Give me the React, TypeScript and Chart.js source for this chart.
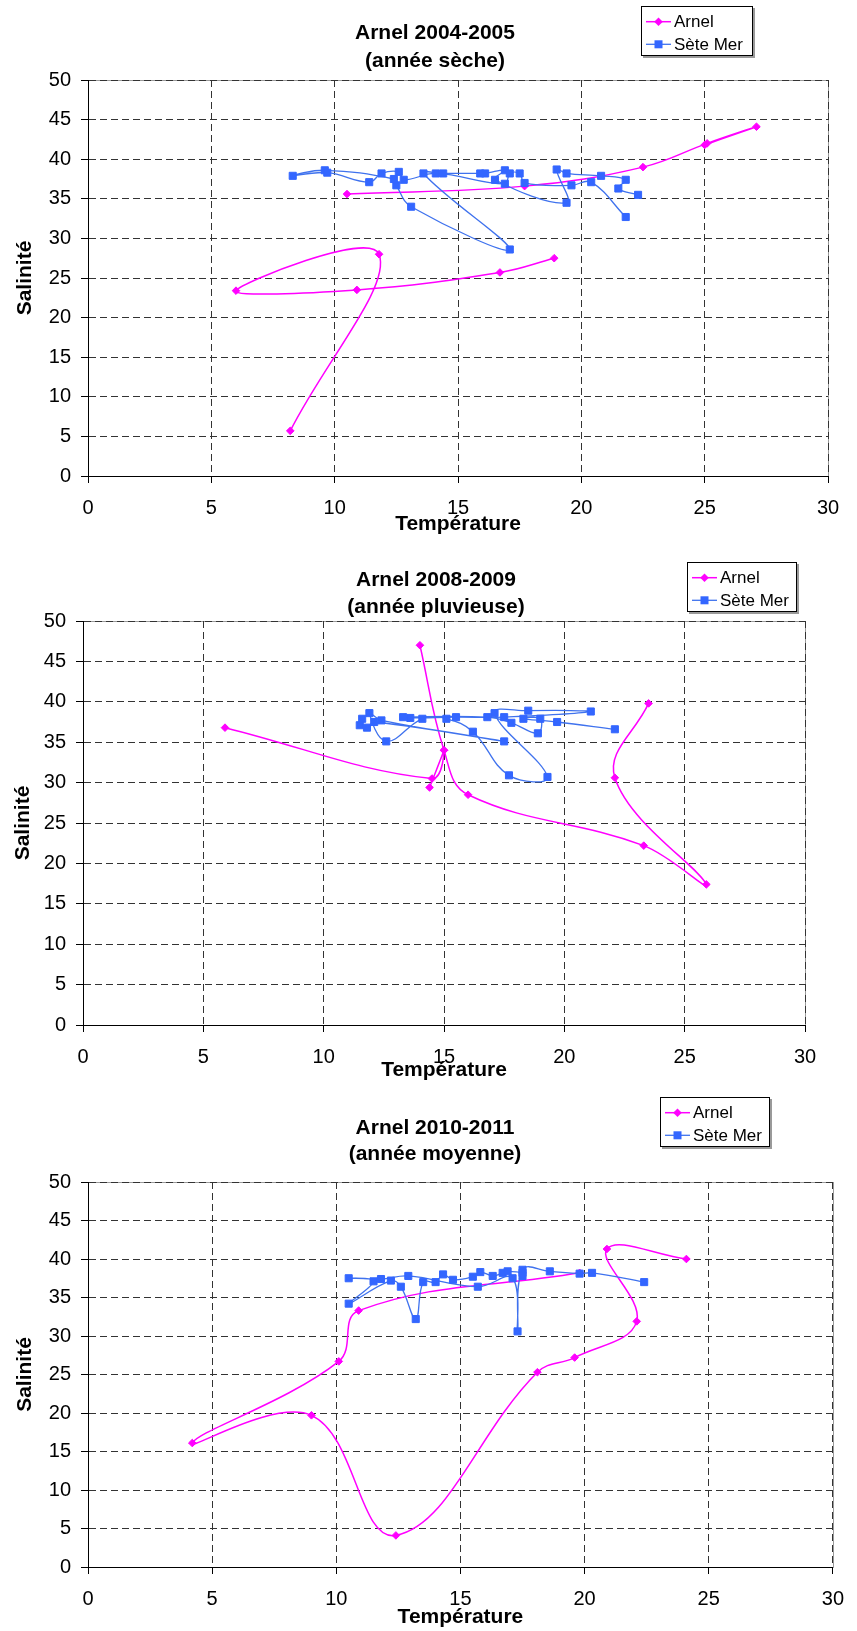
import { useEffect, useRef } from 'react';
import { Chart, registerables } from 'chart.js';

Chart.register(...registerables);

const FONT = '"Liberation Sans", Arial, Helvetica, sans-serif';

// ---- shared labels ----
const legendLabels = ['Arnel', 'Sète Mer'];
const xAxisTitle = 'Température';
const yAxisTitle = 'Salinité';
const xTickMin = 0;
const xTickMax = 30;
const xTickStep = 5;
const yTickMin = 0;
const yTickMax = 50;
const yTickStep = 5;

// ---- chart 1 : 2004-2005 ----
const title1 = ['Arnel 2004-2005', '(année sèche)'];
const arnel1aT = [8.2, 11.8, 6.0, 10.9, 16.7, 18.9];
const arnel1aS = [5.7, 28.0, 23.4, 23.5, 25.7, 27.5];
const arnel1bT = [10.5, 17.7, 22.5, 25.1, 27.1, 25.0];
const arnel1bS = [35.6, 36.6, 39.0, 42.0, 44.1, 41.8];
const sete1T = [22.3, 21.5, 21.8, 20.8, 19.4, 19.0, 19.4, 16.5, 16.9, 16.1, 15.9, 14.4, 13.6, 17.1, 13.1, 12.5, 12.4, 9.6, 8.3, 9.7, 11.4, 11.9, 12.6, 12.8, 14.1, 16.9, 17.1, 17.5, 17.7, 19.6, 20.4, 21.8];
const sete1S = [35.5, 36.3, 37.4, 37.9, 38.2, 38.7, 34.5, 37.4, 38.6, 38.2, 38.2, 38.2, 38.2, 28.6, 34.0, 36.7, 37.5, 38.6, 37.9, 38.3, 37.1, 38.2, 38.4, 37.4, 38.2, 36.9, 38.2, 38.2, 37.0, 36.7, 37.1, 32.7];

// ---- chart 2 : 2008-2009 ----
const title2 = ['Arnel 2008-2009', '(année pluvieuse)'];
const arnel2aT = [5.9, 14.5, 15.0, 14.4];
const arnel2aS = [36.8, 30.5, 34.0, 29.4];
const arnel2bT = [14.0, 15.0, 16.0, 23.3, 25.9, 22.1, 23.5];
const arnel2bS = [47.0, 34.0, 28.5, 22.2, 17.4, 30.6, 39.8];
const sete2T = [11.6, 11.5, 11.8, 12.1, 17.5, 12.4, 11.9, 12.6, 14.1, 15.1, 16.2, 17.7, 19.3, 17.1, 18.5, 21.1, 17.5, 15.5, 13.6, 13.3, 16.8, 17.8, 18.9, 19.0, 18.3, 19.7, 22.1];
const sete2S = [37.9, 37.1, 36.8, 37.5, 35.1, 37.7, 38.6, 35.1, 37.9, 37.9, 36.3, 30.9, 30.7, 38.6, 38.9, 38.8, 38.1, 38.1, 38.0, 38.1, 38.1, 37.4, 36.1, 37.9, 37.9, 37.5, 36.6];

// ---- chart 3 : 2010-2011 ----
const title3 = ['Arnel 2010-2011', '(année moyenne)'];
const arnel3T = [19.8, 10.9, 10.1, 4.2, 9.0, 12.4, 18.1, 19.6, 22.1, 20.9, 24.1];
const arnel3S = [38.2, 33.3, 26.7, 16.1, 19.7, 4.1, 25.3, 27.2, 31.9, 41.3, 40.0];
const sete3T = [22.4, 20.3, 19.8, 18.6, 17.5, 17.3, 17.1, 15.7, 12.9, 11.8, 10.5, 11.5, 10.5, 12.2, 12.6, 13.2, 13.5, 14.0, 14.3, 14.7, 15.5, 15.8, 16.3, 16.7, 16.9, 17.5, 17.5];
const sete3S = [37.0, 38.2, 38.1, 38.4, 38.6, 30.6, 37.5, 36.4, 37.8, 37.4, 37.5, 37.1, 34.2, 37.2, 36.4, 32.2, 37.0, 37.0, 38.0, 37.3, 37.7, 38.3, 37.8, 38.2, 38.4, 38.2, 37.8];

// ---- styles ----
const ARNEL = '#FF00FF';
const SETE_LINE = '#3F72EE';
const SETE_MARK = '#3366FF';
const GRID = '#333333';
const Y_W = 60;
const X_H = 50;
const W = 857;

type Pt = { x: number; y: number };
const zip = (t: number[], s: number[]): Pt[] => t.map((x, i) => ({ x, y: s[i] }));

interface PanelSpec {
  height: number;
  plot: { left: number; right: number; top: number; bottom: number };
  title: string[];
  titleX: number;
  titleY: number[];
  legendBox: { x: number; y: number; w: number; h: number };
  xTitleY: number;
  yTitleX: number;
  arnel: Pt[][];
  sete: Pt[];
}

const panels: PanelSpec[] = [
  {
    height: 540,
    plot: { left: 88, right: 828, top: 80, bottom: 476 },
    title: title1,
    titleX: 435,
    titleY: [33, 61],
    legendBox: { x: 641, y: 6, w: 112, h: 50 },
    xTitleY: 524,
    yTitleX: 25,
    arnel: [zip(arnel1aT, arnel1aS), zip(arnel1bT, arnel1bS)],
    sete: zip(sete1T, sete1S),
  },
  {
    height: 540,
    plot: { left: 83, right: 805, top: 81, bottom: 485 },
    title: title2,
    titleX: 436,
    titleY: [40, 67],
    legendBox: { x: 687, y: 22, w: 110, h: 50 },
    xTitleY: 530,
    yTitleX: 23,
    arnel: [zip(arnel2aT, arnel2aS), zip(arnel2bT, arnel2bS)],
    sete: zip(sete2T, sete2S),
  },
  {
    height: 551,
    plot: { left: 88, right: 841, top: 102, bottom: 487 },
    title: title3,
    titleX: 435,
    titleY: [48, 74],
    legendBox: { x: 660, y: 17, w: 110, h: 50 },
    xTitleY: 537,
    yTitleX: 25,
    arnel: [zip(arnel3T, arnel3S)],
    sete: zip(sete3T, sete3S),
  },
];

function drawDiamond(ctx: CanvasRenderingContext2D, cx: number, cy: number, r: number) {
  ctx.beginPath();
  ctx.moveTo(cx, cy - r);
  ctx.lineTo(cx + r, cy);
  ctx.lineTo(cx, cy + r);
  ctx.lineTo(cx - r, cy);
  ctx.closePath();
  ctx.fill();
}

function makeDecor(spec: PanelSpec) {
  return {
    id: 'decor',
    beforeDraw(chart: any) {
      const { ctx, chartArea: a } = chart;
      ctx.save();
      ctx.fillStyle = '#ffffff';
      ctx.fillRect(0, 0, chart.width, chart.height);
      ctx.strokeStyle = '#9a9a9a';
      ctx.lineWidth = 1;
      ctx.strokeRect(Math.round(a.left) + 0.5, Math.round(a.top) + 0.5, Math.round(a.right - a.left), Math.round(a.bottom - a.top));
      ctx.restore();
    },
    afterDraw(chart: any) {
      const { ctx, chartArea: a } = chart;
      ctx.save();
      ctx.fillStyle = '#000';
      ctx.textAlign = 'center';
      ctx.textBaseline = 'middle';
      ctx.font = `bold 21px ${FONT}`;
      spec.title.forEach((t, i) => ctx.fillText(t, spec.titleX, spec.titleY[i]));
      ctx.fillText(xAxisTitle, (a.left + a.right) / 2, spec.xTitleY);
      ctx.save();
      ctx.translate(spec.yTitleX, (a.top + a.bottom) / 2);
      ctx.rotate(-Math.PI / 2);
      ctx.fillText(yAxisTitle, 0, 0);
      ctx.restore();

      // legend
      const b = spec.legendBox;
      ctx.fillStyle = '#9a9a9a';
      ctx.fillRect(b.x + 2, b.y + 2, b.w, b.h);
      ctx.fillStyle = '#fff';
      ctx.fillRect(b.x, b.y, b.w, b.h);
      ctx.strokeStyle = '#000';
      ctx.lineWidth = 1;
      ctx.strokeRect(b.x + 0.5, b.y + 0.5, b.w - 1, b.h - 1);
      const rows = [b.y + 15.7, b.y + 38.3];
      const lx1 = b.x + 5;
      const lx2 = b.x + 30;
      const mx = (lx1 + lx2) / 2;
      // Arnel
      ctx.strokeStyle = ARNEL;
      ctx.lineWidth = 1.5;
      ctx.beginPath();
      ctx.moveTo(lx1, rows[0]);
      ctx.lineTo(lx2, rows[0]);
      ctx.stroke();
      ctx.fillStyle = ARNEL;
      drawDiamond(ctx, mx, rows[0], 4.3);
      // Sete
      ctx.strokeStyle = SETE_LINE;
      ctx.lineWidth = 1.3;
      ctx.beginPath();
      ctx.moveTo(lx1, rows[1]);
      ctx.lineTo(lx2, rows[1]);
      ctx.stroke();
      ctx.fillStyle = SETE_MARK;
      ctx.fillRect(mx - 4, rows[1] - 4, 8, 8);
      ctx.fillStyle = '#000';
      ctx.textAlign = 'left';
      ctx.font = `17px ${FONT}`;
      ctx.fillText(legendLabels[0], b.x + 33, rows[0] + 1);
      ctx.fillText(legendLabels[1], b.x + 33, rows[1] + 1);
      ctx.restore();
    },
  };
}

function Panel({ spec }: { spec: PanelSpec }) {
  const ref = useRef<HTMLCanvasElement>(null);
  useEffect(() => {
    const canvas = ref.current;
    if (!canvas) return;
    const datasets: any[] = [
      {
        label: legendLabels[1],
        data: spec.sete,
        showLine: true,
        borderColor: SETE_LINE,
        backgroundColor: SETE_MARK,
        borderWidth: 1.3,
        pointStyle: 'rect',
        pointRadius: 5,
        pointBorderWidth: 1,
        pointBorderColor: SETE_MARK,
        pointBackgroundColor: SETE_MARK,
        tension: 0.4,
        fill: false,
      },
      ...spec.arnel.map((seg) => ({
        label: legendLabels[0],
        data: seg,
        showLine: true,
        borderColor: ARNEL,
        backgroundColor: ARNEL,
        borderWidth: 1.5,
        pointStyle: 'rectRot',
        pointRadius: 3.8,
        pointBorderWidth: 1,
        pointBorderColor: ARNEL,
        pointBackgroundColor: ARNEL,
        tension: 0.4,
        fill: false,
      })),
    ];
    const p = spec.plot;
    const chart = new Chart(canvas, {
      type: 'scatter',
      data: { datasets },
      plugins: [makeDecor(spec)],
      options: {
        responsive: false,
        animation: false,
        devicePixelRatio: 1,
        layout: {
          padding: {
            left: p.left - Y_W,
            right: W - p.right,
            top: p.top,
            bottom: spec.height - p.bottom - X_H,
          },
        },
        plugins: {
          legend: { display: false },
          title: { display: false },
          tooltip: { enabled: false },
        },
        scales: {
          x: {
            type: 'linear',
            min: xTickMin,
            max: xTickMax,
            afterFit: (s: any) => {
              s.height = X_H;
            },
            ticks: {
              stepSize: xTickStep,
              color: '#000',
              font: { family: FONT, size: 20 },
              padding: 13,
              maxRotation: 0,
              autoSkip: false,
            },
            grid: {
              color: GRID,
              lineWidth: 1,
              tickLength: 7,
              tickColor: '#000',
              tickWidth: 1,
              tickBorderDash: [],
            },
            border: { display: true, color: '#000', width: 1, dash: [7, 4] },
          },
          y: {
            type: 'linear',
            min: yTickMin,
            max: yTickMax,
            afterFit: (s: any) => {
              s.width = Y_W;
            },
            ticks: {
              stepSize: yTickStep,
              color: '#000',
              font: { family: FONT, size: 20 },
              padding: 10,
              autoSkip: false,
            },
            grid: {
              color: GRID,
              lineWidth: 1,
              tickLength: 7,
              tickColor: '#000',
              tickWidth: 1,
              tickBorderDash: [],
            },
            border: { display: true, color: '#000', width: 1, dash: [7, 4] },
          },
        },
      } as any,
    });
    return () => chart.destroy();
  }, [spec]);
  return (
    <div style={{ width: W, height: spec.height, position: 'relative' }}>
      <canvas ref={ref} width={W} height={spec.height} style={{ display: 'block', width: W, height: spec.height }} />
    </div>
  );
}

export default function App() {
  return (
    <div style={{ position: 'absolute', left: 0, top: 0, width: W, background: '#fff' }}>
      {panels.map((s, i) => (
        <Panel key={i} spec={s} />
      ))}
    </div>
  );
}
